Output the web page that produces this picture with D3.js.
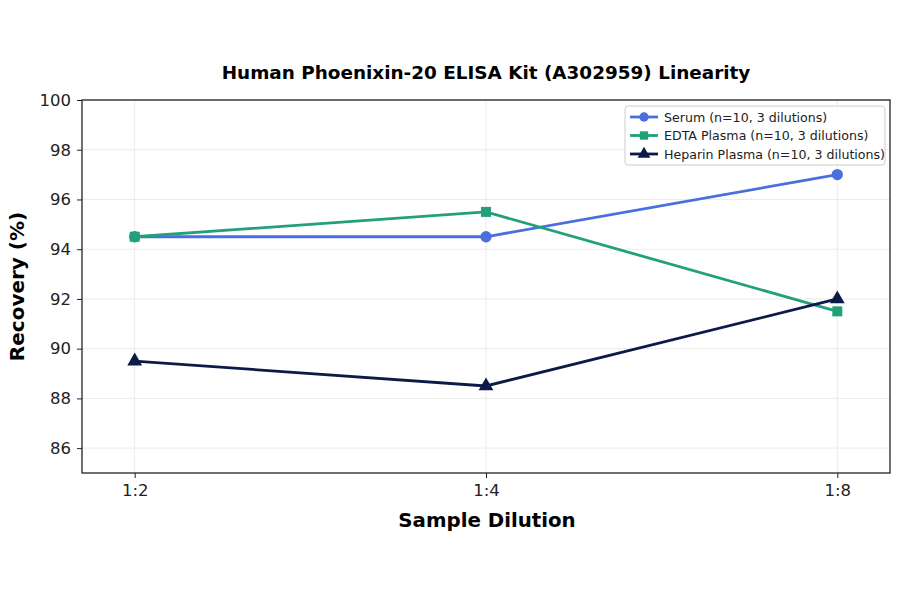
<!DOCTYPE html>
<html>
<head>
<meta charset="utf-8">
<script src="https://cdn.jsdelivr.net/npm/d3@7"></script>
<style>
  body { margin: 0; background: #fff; }
  text { font-family: "DejaVu Sans", sans-serif; }
</style>
</head>
<body>
<div id="chart"></div>
<script>
// data
var dilutions = ["1:2", "1:4", "1:8"];
var serum = [94.5, 94.5, 97.0];
var edta = [94.5, 95.5, 91.5];
var heparin = [89.5, 88.5, 92.0];
var seriesNames = ["Serum (n=10, 3 dilutions)", "EDTA Plasma (n=10, 3 dilutions)", "Heparin Plasma (n=10, 3 dilutions)"];
var yTicks = [86, 88, 90, 92, 94, 96, 98, 100];

var colors = ["#4a6fdc", "#22a07a", "#0c1a48"];
var shapes = [d3.symbolCircle, d3.symbolSquare, d3.symbolTriangle];
var allSeries = [serum, edta, heparin];

var svgWidth = 900, svgHeight = 594;
var margin = { top: 100, right: 10, bottom: 121, left: 82 };
var width = svgWidth - margin.left - margin.right;
var height = svgHeight - margin.top - margin.bottom;

var svg = d3.select("#chart").append("svg")
  .attr("width", svgWidth)
  .attr("height", svgHeight);

var chart = svg.append("g")
  .attr("transform", `translate(${margin.left}, ${margin.top})`);

// scales
var x = d3.scaleLinear().domain([-0.15, dilutions.length - 1 + 0.15]).range([0, width]);
var y = d3.scaleLinear().domain([85, 100]).range([height, 0]);

// grid
chart.append("g").selectAll("line")
  .data(yTicks).enter().append("line")
  .attr("x1", 0).attr("x2", width)
  .attr("y1", d => y(d)).attr("y2", d => y(d))
  .attr("stroke", "#e6e6e6").attr("stroke-width", 0.8);
chart.append("g").selectAll("line")
  .data(dilutions).enter().append("line")
  .attr("x1", (d, i) => x(i)).attr("x2", (d, i) => x(i))
  .attr("y1", 0).attr("y2", height)
  .attr("stroke", "#e6e6e6").attr("stroke-width", 0.8);

// axes
var bottom = d3.axisBottom(x)
  .tickValues(d3.range(dilutions.length))
  .tickFormat(i => dilutions[i])
  .tickSize(5).tickPadding(6);
var left = d3.axisLeft(y).tickValues(yTicks).tickSize(5).tickPadding(6);

var xaxis = chart.append("g").attr("transform", `translate(0, ${height})`).call(bottom);
var yaxis = chart.append("g").call(left);
[xaxis, yaxis].forEach(a => {
  a.select(".domain").remove();
  a.selectAll("text").attr("font-size", 16.5).attr("fill", "#222");
  a.selectAll("line").attr("stroke", "#222");
});

// frame
chart.append("rect")
  .attr("width", width).attr("height", height)
  .attr("fill", "none").attr("stroke", "#222").attr("stroke-width", 1.3);

// lines and markers
var line = d3.line().x((d, i) => x(i)).y(d => y(d));
allSeries.forEach((s, k) => {
  chart.append("path")
    .datum(s)
    .attr("d", line)
    .attr("fill", "none")
    .attr("stroke", colors[k])
    .attr("stroke-width", 2.8);
  chart.selectAll(".m" + k)
    .data(s).enter().append("path")
    .attr("transform", (d, i) => `translate(${x(i)}, ${y(d)})`)
    .attr("d", d3.symbol().type(shapes[k]).size(k == 2 ? 95 : 100))
    .attr("fill", colors[k]);
});

// title and labels
svg.append("text")
  .attr("x", 486).attr("y", 79)
  .attr("text-anchor", "middle")
  .attr("font-size", 18.4).attr("font-weight", "bold")
  .text("Human Phoenixin-20 ELISA Kit (A302959) Linearity");

svg.append("text")
  .attr("x", 487).attr("y", 527)
  .attr("text-anchor", "middle")
  .attr("font-size", 19.8).attr("font-weight", "bold")
  .text("Sample Dilution");

svg.append("text")
  .attr("transform", "rotate(-90)")
  .attr("x", -(margin.top + height / 2)).attr("y", 24)
  .attr("text-anchor", "middle")
  .attr("font-size", 20).attr("font-weight", "bold")
  .text("Recovery (%)");

// legend
var legend = svg.append("g").attr("transform", "translate(625, 106)");
legend.append("rect")
  .attr("width", 260).attr("height", 59)
  .attr("rx", 3)
  .attr("fill", "#fff").attr("fill-opacity", 0.85)
  .attr("stroke", "#ccc");
seriesNames.forEach((name, k) => {
  var g = legend.append("g").attr("transform", `translate(0, ${11 + k * 18.5})`);
  g.append("line").attr("x1", 5).attr("x2", 33).attr("y1", 0).attr("y2", 0)
    .attr("stroke", colors[k]).attr("stroke-width", 2.8);
  g.append("path").attr("transform", "translate(19, 0)")
    .attr("d", d3.symbol().type(shapes[k]).size(70))
    .attr("fill", colors[k]);
  g.append("text").attr("x", 39).attr("y", 4.5)
    .attr("font-size", 12.6).attr("fill", "#222")
    .text(name);
});
</script>
</body>
</html>
